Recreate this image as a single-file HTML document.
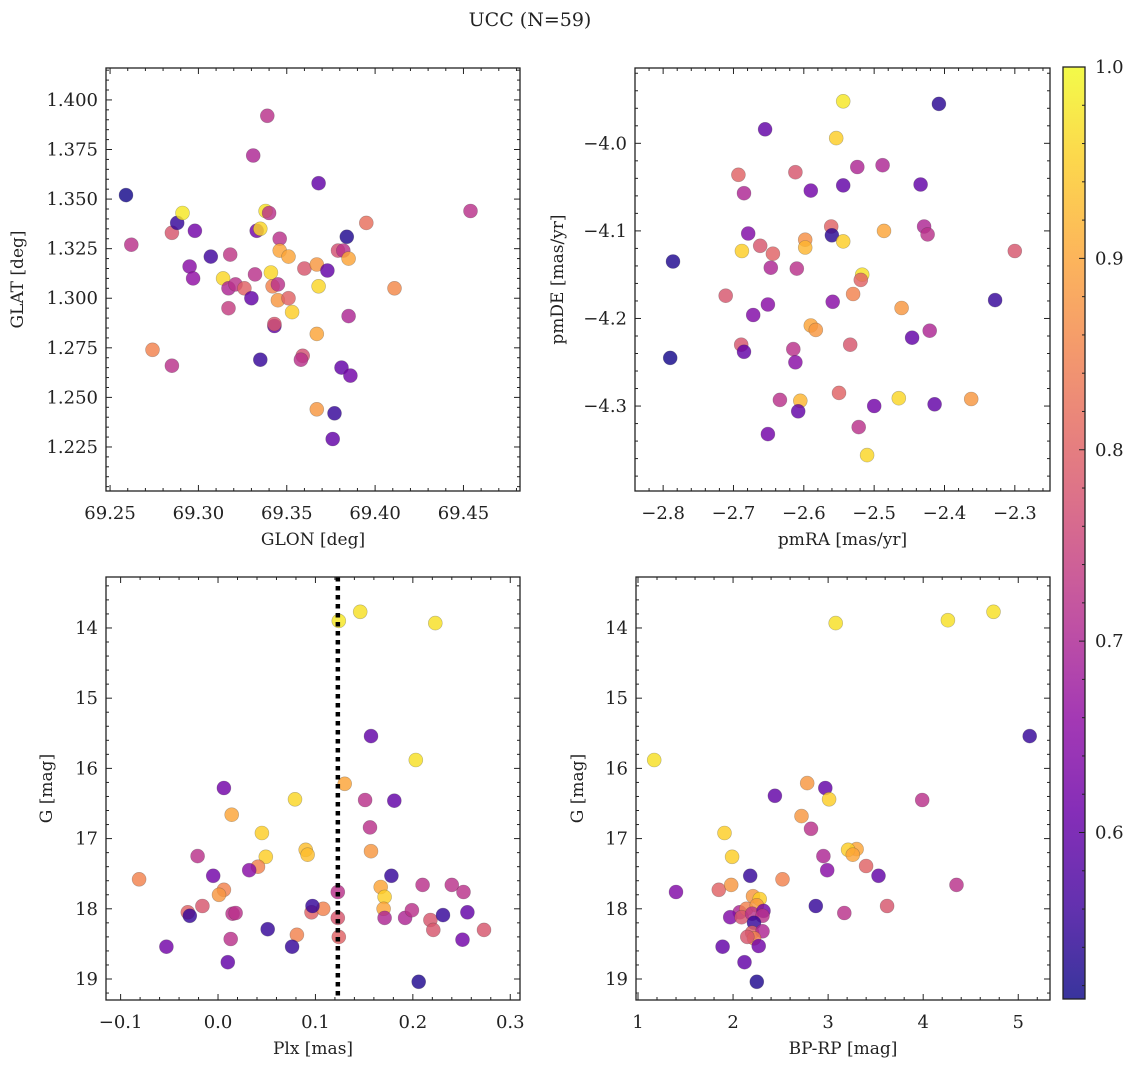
<!DOCTYPE html>
<html><head><meta charset="utf-8"><style>
html,body{margin:0;padding:0;background:#fff;}
svg text{font-family:"DejaVu Serif","Liberation Serif",serif;fill:#222;}
</style></head><body>
<svg id="fig" width="1136" height="1067" xmlns="http://www.w3.org/2000/svg"></svg>
<script>
// ---------- data ----------
const p1Glon=[69.259,69.262,69.285,69.288,69.291,69.298,69.295,69.297,69.307,69.274,69.285,69.314,69.317,69.318,69.317,69.321,69.326,69.330,69.332,69.331,69.339,69.333,69.335,69.338,69.340,69.335,69.341,69.342,69.343,69.343,69.345,69.345,69.346,69.346,69.351,69.351,69.353,69.359,69.358,69.360,69.367,69.368,69.367,69.367,69.368,69.373,69.377,69.376,69.379,69.382,69.384,69.385,69.381,69.386,69.385,69.395,69.411,69.454];
const p1Glat=[1.352,1.327,1.333,1.338,1.343,1.334,1.316,1.310,1.321,1.274,1.266,1.310,1.305,1.322,1.295,1.307,1.305,1.300,1.312,1.372,1.392,1.334,1.335,1.344,1.343,1.269,1.313,1.306,1.286,1.287,1.307,1.299,1.330,1.324,1.321,1.300,1.293,1.271,1.269,1.315,1.317,1.306,1.282,1.244,1.358,1.314,1.242,1.229,1.324,1.324,1.331,1.320,1.265,1.261,1.291,1.338,1.305,1.344];
const p1Prob=[0.52,0.72,0.78,0.55,0.98,0.62,0.65,0.66,0.56,0.85,0.72,0.96,0.70,0.73,0.74,0.72,0.80,0.60,0.72,0.70,0.72,0.62,0.96,0.97,0.72,0.55,0.96,0.85,0.60,0.78,0.72,0.88,0.72,0.90,0.90,0.80,0.95,0.77,0.72,0.78,0.88,0.96,0.90,0.88,0.60,0.60,0.55,0.60,0.77,0.72,0.53,0.90,0.60,0.62,0.70,0.82,0.86,0.72];

const p2PmRA=[-2.544,-2.408,-2.655,-2.554,-2.693,-2.612,-2.524,-2.488,-2.685,-2.590,-2.544,-2.434,-2.679,-2.662,-2.688,-2.644,-2.598,-2.598,-2.561,-2.560,-2.544,-2.486,-2.429,-2.424,-2.300,-2.786,-2.647,-2.610,-2.517,-2.519,-2.711,-2.530,-2.651,-2.559,-2.461,-2.328,-2.672,-2.590,-2.583,-2.421,-2.446,-2.689,-2.685,-2.615,-2.534,-2.612,-2.790,-2.550,-2.634,-2.605,-2.465,-2.362,-2.500,-2.414,-2.608,-2.651,-2.522,-2.510];
const p2PmDE=[-3.952,-3.955,-3.984,-3.994,-4.036,-4.033,-4.027,-4.025,-4.057,-4.054,-4.048,-4.047,-4.103,-4.117,-4.123,-4.126,-4.110,-4.119,-4.095,-4.105,-4.112,-4.100,-4.095,-4.104,-4.123,-4.135,-4.142,-4.143,-4.150,-4.156,-4.174,-4.172,-4.184,-4.181,-4.188,-4.179,-4.196,-4.208,-4.213,-4.214,-4.222,-4.230,-4.238,-4.235,-4.230,-4.250,-4.245,-4.285,-4.293,-4.294,-4.291,-4.292,-4.300,-4.298,-4.306,-4.332,-4.324,-4.356];
const p2Prob=[0.98,0.54,0.60,0.95,0.80,0.78,0.70,0.70,0.70,0.62,0.60,0.60,0.64,0.78,0.95,0.80,0.87,0.92,0.80,0.54,0.95,0.90,0.70,0.72,0.78,0.53,0.70,0.72,0.97,0.80,0.78,0.85,0.65,0.65,0.88,0.55,0.64,0.90,0.88,0.70,0.60,0.78,0.60,0.72,0.78,0.65,0.52,0.80,0.72,0.92,0.96,0.88,0.62,0.60,0.60,0.62,0.72,0.96];

const p3Plx=[0.124,0.146,0.223,0.157,0.203,0.130,0.006,0.181,0.151,0.079,0.014,0.156,0.045,0.090,0.092,0.157,-0.021,0.049,0.041,0.032,-0.005,0.178,-0.081,0.123,0.210,0.167,0.240,0.252,0.006,0.001,0.171,0.170,-0.031,-0.016,-0.029,0.015,0.018,0.096,0.108,0.097,0.171,0.192,0.199,0.218,0.231,0.256,0.123,0.051,0.081,0.124,0.221,0.273,0.013,0.251,-0.053,0.076,0.010,0.206];
const p3G=[13.90,13.77,13.93,15.54,15.88,16.22,16.28,16.46,16.45,16.44,16.66,16.84,16.92,17.16,17.23,17.18,17.25,17.26,17.40,17.45,17.53,17.53,17.58,17.76,17.66,17.69,17.66,17.76,17.73,17.80,17.83,18.00,18.05,17.96,18.10,18.07,18.06,18.05,18.00,17.96,18.13,18.13,18.02,18.16,18.09,18.05,18.13,18.29,18.37,18.40,18.30,18.30,18.43,18.44,18.54,18.54,18.76,19.04];
const p3Prob=[0.98,0.97,0.97,0.60,0.97,0.90,0.62,0.60,0.72,0.96,0.90,0.72,0.95,0.93,0.93,0.88,0.72,0.95,0.85,0.65,0.62,0.55,0.85,0.72,0.72,0.90,0.72,0.72,0.85,0.88,0.95,0.90,0.80,0.78,0.55,0.72,0.72,0.80,0.85,0.55,0.70,0.70,0.72,0.78,0.55,0.60,0.78,0.55,0.85,0.80,0.78,0.78,0.72,0.62,0.62,0.55,0.60,0.53];
const plxCut=[0.123];

const p4BpRp=[3.08,4.26,4.74,5.12,1.17,2.78,2.97,3.01,2.44,3.99,2.72,2.82,1.91,2.95,2.99,3.30,3.21,3.26,1.99,3.40,3.53,2.18,2.52,4.35,1.40,1.85,1.98,2.21,2.28,3.62,2.87,3.17,2.07,2.14,2.25,1.97,2.09,2.20,2.32,2.31,2.22,2.20,2.31,2.22,2.15,1.89,2.27,2.12,2.25];
const p4G=[13.93,13.89,13.77,15.54,15.88,16.21,16.28,16.44,16.39,16.45,16.68,16.86,16.92,17.25,17.45,17.15,17.16,17.23,17.26,17.39,17.53,17.53,17.58,17.66,17.76,17.73,17.66,17.82,17.86,17.96,17.96,18.06,18.05,18.00,17.95,18.12,18.12,18.07,18.03,18.10,18.20,18.34,18.32,18.42,18.40,18.54,18.53,18.76,19.04];
const p4Prob=[0.97,0.97,0.97,0.55,0.97,0.88,0.60,0.95,0.60,0.72,0.88,0.72,0.95,0.70,0.65,0.90,0.95,0.90,0.95,0.80,0.60,0.55,0.85,0.72,0.64,0.80,0.88,0.88,0.95,0.78,0.55,0.72,0.70,0.85,0.88,0.64,0.78,0.72,0.62,0.72,0.55,0.80,0.70,0.85,0.78,0.60,0.62,0.60,0.53];

const cbarTicks=[0.6,0.7,0.8,0.9,1.0];
const cbarMin=0.513, cbarMax=1.0;

// ---------- helpers ----------
const NS='http://www.w3.org/2000/svg';
const svg=document.getElementById('fig');
function mk(tag,attrs,parent){const e=document.createElementNS(NS,tag);for(const k in attrs)e.setAttribute(k,attrs[k]);(parent||svg).appendChild(e);return e;}
const stops=[[13,8,135],[65,4,157],[106,0,168],[143,13,164],[177,42,144],[204,71,120],[225,100,98],[242,132,75],[252,166,54],[252,206,37],[240,249,33]];
function plasma(t){t=Math.max(0,Math.min(1,t));const f=t*10,i=Math.min(9,Math.floor(f)),r=f-i;const a=stops[i],b=stops[i+1];return 'rgb('+[0,1,2].map(k=>Math.round(a[k]+(b[k]-a[k])*r)).join(',')+')';}
function cmap(v){return plasma((v-cbarMin)/(cbarMax-cbarMin));}
function fmt(v,d){const s=Math.abs(v).toFixed(d);return (v<-1e-9?'\u2212':'')+s;}

function panel(o){
  const g=mk('g',{});
  
  
  const sx=v=>o.x0+(v-o.xmin)/(o.xmax-o.xmin)*(o.x1-o.x0);
  const sy=o.yinv?(v=>o.y0+(v-o.ymin)/(o.ymax-o.ymin)*(o.y1-o.y0)):(v=>o.y1-(v-o.ymin)/(o.ymax-o.ymin)*(o.y1-o.y0));
  const pg=mk('g',{},g);
  
  
  for(let i=0;i<o.xs.length;i++){
    const c=mk('circle',{cx:sx(o.xs[i]).toFixed(1),cy:sy(o.ys[i]).toFixed(1),r:7,fill:cmap(o.cs[i]),'fill-opacity':0.82,stroke:'rgba(60,60,60,0.35)','stroke-width':0.6},pg);
    
    
  }
  if(o.vline){for(const v of o.vline){const l=mk('line',{x1:sx(v),x2:sx(v),y1:o.y0,y2:o.y1,stroke:'#000','stroke-width':4.5,'stroke-dasharray':'4.5,4.5'},g);
    
    }}
  const fr=mk('rect',{x:o.x0,y:o.y0,width:o.x1-o.x0,height:o.y1-o.y0,fill:'none',stroke:'#222','stroke-width':1.3},g);
  
  
  const tg=mk('g',{stroke:'#222','stroke-width':1},g);
  const eps=1e-9;
  for(let v=Math.ceil(o.xmin/o.xminor-eps)*o.xminor;v<=o.xmax+eps;v+=o.xminor){
    const X=sx(v);const maj=Math.abs(v/o.xmajor-Math.round(v/o.xmajor))<1e-6;const L=maj?6:3;
    mk('line',{x1:X,x2:X,y1:o.y1,y2:o.y1-L},tg);mk('line',{x1:X,x2:X,y1:o.y0,y2:o.y0+L},tg);
    if(maj){const t=mk('text',{x:X,y:o.y1+28,'text-anchor':'middle','font-size':18,stroke:'none'},g);t.textContent=fmt(v,o.xd);
      
      }
  }
  for(let v=Math.ceil(o.ymin/o.yminor-eps)*o.yminor;v<=o.ymax+eps;v+=o.yminor){
    const Y=sy(v);const maj=Math.abs(v/o.ymajor-Math.round(v/o.ymajor))<1e-6;const L=maj?6:3;
    mk('line',{x1:o.x0,x2:o.x0+L,y1:Y,y2:Y},tg);mk('line',{x1:o.x1,x2:o.x1-L,y1:Y,y2:Y},tg);
    if(maj){const t=mk('text',{x:o.x0-8,y:Y+6,'text-anchor':'end','font-size':18,stroke:'none'},g);t.textContent=fmt(v,o.yd);
      
      }
  }
  const xl=mk('text',{x:(o.x0+o.x1)/2,y:o.y1+54,'text-anchor':'middle','font-size':17},g);xl.textContent=o.xlabel;
  
  
  const yl=mk('text',{x:0,y:0,'text-anchor':'middle','font-size':17,transform:'translate('+o.ylx+','+((o.y0+o.y1)/2)+') rotate(-90)'},g);yl.textContent=o.ylabel;
  
  
}

const title=mk('text',{x:530,y:26,'text-anchor':'middle','font-size':19});title.textContent='UCC (N=59)';



panel({name:'glon-glat-panel',xs:p1Glon,ys:p1Glat,cs:p1Prob,x0:106,x1:520,y0:68,y1:491,xmin:69.2477,xmax:69.482,ymin:1.2028,ymax:1.4161,xmajor:0.05,xminor:0.01,ymajor:0.025,yminor:0.005,xd:2,yd:3,xlabel:'GLON [deg]',ylabel:'GLAT [deg]',ylx:23});
panel({name:'pm-panel',xs:p2PmRA,ys:p2PmDE,cs:p2Prob,x0:635,x1:1050,y0:68,y1:491,xmin:-2.840,xmax:-2.250,ymin:-4.397,ymax:-3.914,xmajor:0.1,xminor:0.02,ymajor:0.1,yminor:0.02,xd:1,yd:1,xlabel:'pmRA [mas/yr]',ylabel:'pmDE [mas/yr]',ylx:563});
panel({name:'plx-g-panel',xs:p3Plx,ys:p3G,cs:p3Prob,x0:106,x1:520,y0:577,y1:1000,xmin:-0.115,xmax:0.310,ymin:13.274,ymax:19.299,yinv:true,xmajor:0.1,xminor:0.02,ymajor:1,yminor:0.2,xd:1,yd:0,xlabel:'Plx [mas]',ylabel:'G [mag]',ylx:52,vline:plxCut});
panel({name:'cmd-panel',xs:p4BpRp,ys:p4G,cs:p4Prob,x0:636,x1:1050,y0:577,y1:1000,xmin:0.979,xmax:5.334,ymin:13.274,ymax:19.299,yinv:true,xmajor:1,xminor:0.2,ymajor:1,yminor:0.2,xd:0,yd:0,xlabel:'BP-RP [mag]',ylabel:'G [mag]',ylx:583});

(function(){
  const x0=1063,x1=1085,y0=67,y1=999;
  const cg=mk('g',{});
  
  
  const defs=mk('defs',{},cg);
  const lg=mk('linearGradient',{id:'cbg',x1:0,y1:1,x2:0,y2:0},defs);
  for(let i=0;i<=20;i++){const t=i/20;mk('stop',{offset:t,'stop-color':plasma(t)},lg);}
  mk('rect',{x:x0,y:y0,width:x1-x0,height:y1-y0,fill:'url(#cbg)','fill-opacity':0.82},cg);
  mk('rect',{x:x0,y:y0,width:x1-x0,height:y1-y0,fill:'none',stroke:'#222','stroke-width':1.3},cg);
  const sy=v=>y1-(v-cbarMin)/(cbarMax-cbarMin)*(y1-y0);
  for(let v=0.52;v<=1.0001;v+=0.02){const Y=sy(v);const maj=Math.abs(v*10-Math.round(v*10))<1e-6;
    mk('line',{x1:x1,x2:x1-(maj?6:3),y1:Y,y2:Y,stroke:'#222','stroke-width':1},cg);}
  for(const v of cbarTicks){const t=mk('text',{x:x1+10,y:sy(v)+6,'font-size':18},cg);t.textContent=v.toFixed(1);
    
    }
})();
</script>
</body></html>
